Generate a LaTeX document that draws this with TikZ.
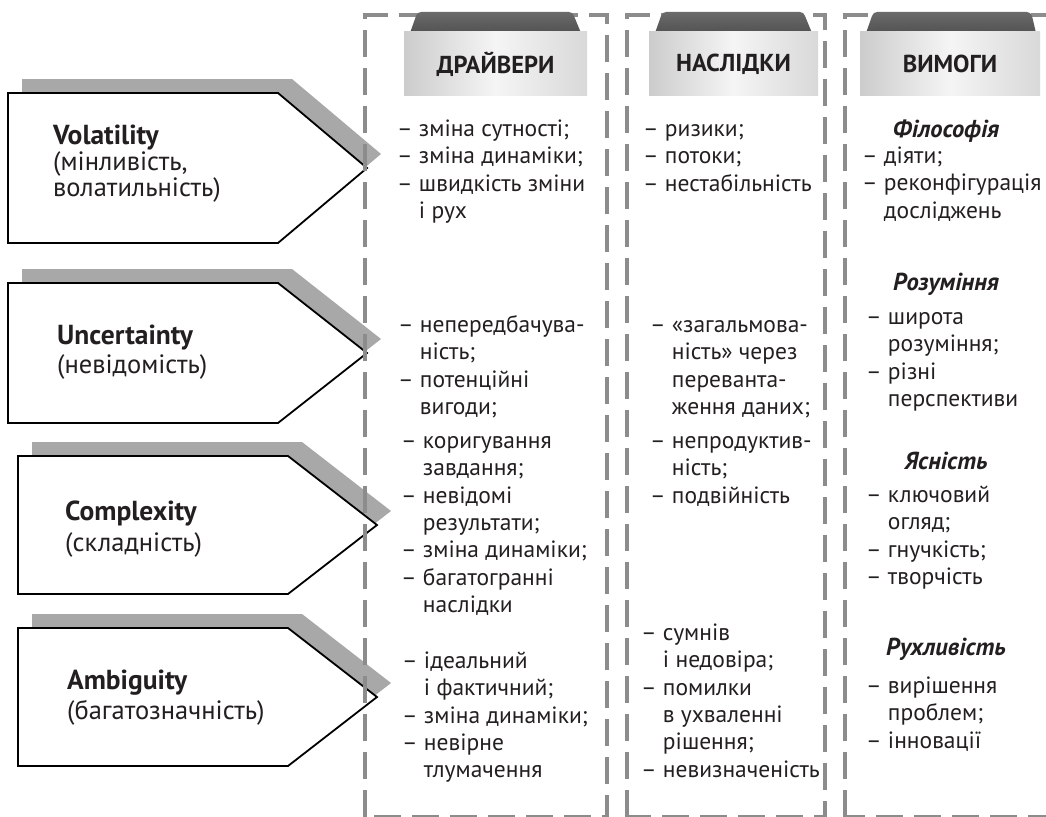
\documentclass[tikz,border=0pt]{standalone}
\usepackage{fontspec}
\setmainfont{PT Sans}
\definecolor{ink}{HTML}{231F20}
\definecolor{shadowgray}{HTML}{A8A8A8}
\definecolor{dashgray}{HTML}{8C8C8C}
\definecolor{tabdark}{HTML}{525252}
\definecolor{tabtop}{HTML}{6A6A6A}
\newcommand{\bodyfont}{\fontsize{23.5}{27.4}\selectfont}
\newcommand{\fr}{\rule{0pt}{20pt}}
\newcommand{\ind}{\hphantom{– }}
\begin{document}
\begin{tikzpicture}[x=1pt,y=-1pt,
  shadowshape/.style={fill=shadowgray,draw=none},
  arrowshape/.style={fill=white,draw=black,line width=1.8pt,line join=miter},
  colbox/.style={draw=dashgray,line width=4pt,dash pattern=on 27pt off 11pt},
  txt/.style={anchor=north west,align=left,inner sep=0pt,font=\bodyfont,text=ink},
  headtxt/.style={anchor=base,inner sep=0pt,font=\fontsize{24.5}{27.4}\selectfont\bfseries\itshape,text=ink},
  title/.style={anchor=base west,inner sep=0pt,font=\fontsize{27.5}{30}\selectfont\bfseries,text=ink},
  subtitle/.style={anchor=base west,inner sep=0pt,font=\fontsize{26.5}{30}\selectfont,text=ink},
  tabtxt/.style={anchor=center,inner sep=0pt,font=\fontsize{24.5}{28}\selectfont\bfseries,text=ink},
  tabrect/.style={left color=gray!40,right color=gray!30,middle color=gray!8,draw=none},
  tabtrap/.style={top color=tabtop,bottom color=tabdark,draw=none}
]
\useasboundingbox (0,0) rectangle (1046,816);

% ---- arrow shadows
\path[shadowshape] (22,79) -- (292,79) -- (381,154) -- (292,229) -- (22,229) -- cycle;
\path[shadowshape] (22,269) -- (292,269) -- (381,339) -- (292,409) -- (22,409) -- cycle;
\path[shadowshape] (32,442) -- (302,442) -- (391,511) -- (302,580) -- (32,580) -- cycle;
\path[shadowshape] (32,614) -- (302,614) -- (391,683) -- (302,752) -- (32,752) -- cycle;

% ---- arrow shapes
\draw[arrowshape] (8,93) -- (278,93) -- (367,168) -- (278,243) -- (8,243) -- cycle;
\draw[arrowshape] (8,283) -- (278,283) -- (367,353) -- (278,423) -- (8,423) -- cycle;
\draw[arrowshape] (18,456) -- (288,456) -- (377,525) -- (288,594) -- (18,594) -- cycle;
\draw[arrowshape] (18,628) -- (288,628) -- (377,697) -- (288,766) -- (18,766) -- cycle;

% ---- dashed columns
\draw[colbox] (365,817) -- (365,15) -- (607,15) -- (607,817) -- cycle;
\draw[colbox] (627,817) -- (627,15) -- (825,15) -- (825,817) -- cycle;
\draw[colbox] (845,817) -- (845,15) -- (1060,15) -- (1060,817) -- cycle;

% ---- header tabs
\shade[tabtrap] (410,33) -- (416,16) to[out=70,in=180] (421,12) -- (569,12) to[out=0,in=110] (574,16) -- (581,33) -- cycle;
\shade[tabrect] (404,32) rectangle (587,95);
\node[tabtxt] (hdr1) at (495.5,64) {ДРАЙВЕРИ};

\shade[tabtrap] (655,33) -- (661,16) to[out=70,in=180] (666,12) -- (800,12) to[out=0,in=110] (805,16) -- (812,33) -- cycle;
\shade[tabrect] (649,32) rectangle (818,95);
\node[tabtxt] (hdr2) at (733.5,64) {НАСЛІДКИ};

\shade[tabtrap] (866,33) -- (872,16) to[out=70,in=180] (877,12) -- (1027,12) to[out=0,in=110] (1032,16) -- (1036,33) -- cycle;
\shade[tabrect] (860,32) rectangle (1040,95);
\node[tabtxt] (hdr3) at (950,64) {ВИМОГИ};

% ---- arrow texts
\node[title] (vt) at (53,144) {Volatility};
\node[subtitle] (vs1) at (53,170) {(мінливість,};
\node[subtitle] (vs2) at (53,196) {волатильність)};
\node[title] (ut) at (57,344) {Uncertainty};
\node[subtitle] (us) at (57,373) {(невідомість)};
\node[title] (ct) at (65,520) {Complexity};
\node[subtitle] (cs) at (65,551) {(складність)};
\node[title] (at) at (67,689) {Ambiguity};
\node[subtitle] (as) at (67,719) {(багатозначність)};

% ---- column 1: drivers
\node[txt] (d1) at (397,116) {\fr– зміна сутності;\\– зміна динаміки;\\– швидкість зміни\\\ind і рух};
\node[txt] (d2) at (398,312) {\fr– непередбачува-\\\ind ність;\\– потенційні\\\ind вигоди;};
\node[txt] (d3) at (401,428) {\fr– коригування\\\ind завдання;\\– невідомі\\\ind результати;\\– зміна динаміки;\\– багатогранні\\\ind наслідки};
\node[txt] (d4) at (402,648) {\fr– ідеальний\\\ind і фактичний;\\– зміна динаміки;\\– невірне\\\ind тлумачення};

% ---- column 2: consequences
\node[txt] (n1) at (643,116) {\fr– ризики;\\– потоки;\\– нестабільність};
\node[txt] (n2) at (650,312) {\fr– «загальмова-\\\ind ність» через\\\ind переванта-\\\ind ження даних;};
\node[txt] (n3) at (650,428) {\fr– непродуктив-\\\ind ність;\\– подвійність};
\node[txt] (n4) at (641,620) {\fr– сумнів\\\ind і недовіра;\\– помилки\\\ind в ухваленні\\\ind рішення;\\– невизначеність};

% ---- column 3: requirements
\node[headtxt] (r1h) at (946,137) {Філософія};
\node[txt] (r1) at (862,143) {\fr– діяти;\\– реконфігурація\\\ind досліджень};
\node[headtxt] (r2h) at (946,290) {Розуміння};
\node[txt] (r2) at (866,304) {\fr– широта\\\ind розуміння;\\– різні\\\ind перспективи};
\node[headtxt] (r3h) at (946,469) {Ясність};
\node[txt] (r3) at (866,482) {\fr– ключовий\\\ind огляд;\\– гнучкість;\\– творчість};
\node[headtxt] (r4h) at (946,655) {Рухливість};
\node[txt] (r4) at (866,673) {\fr– вирішення\\\ind проблем;\\– інновації};
\end{tikzpicture}
\end{document}
